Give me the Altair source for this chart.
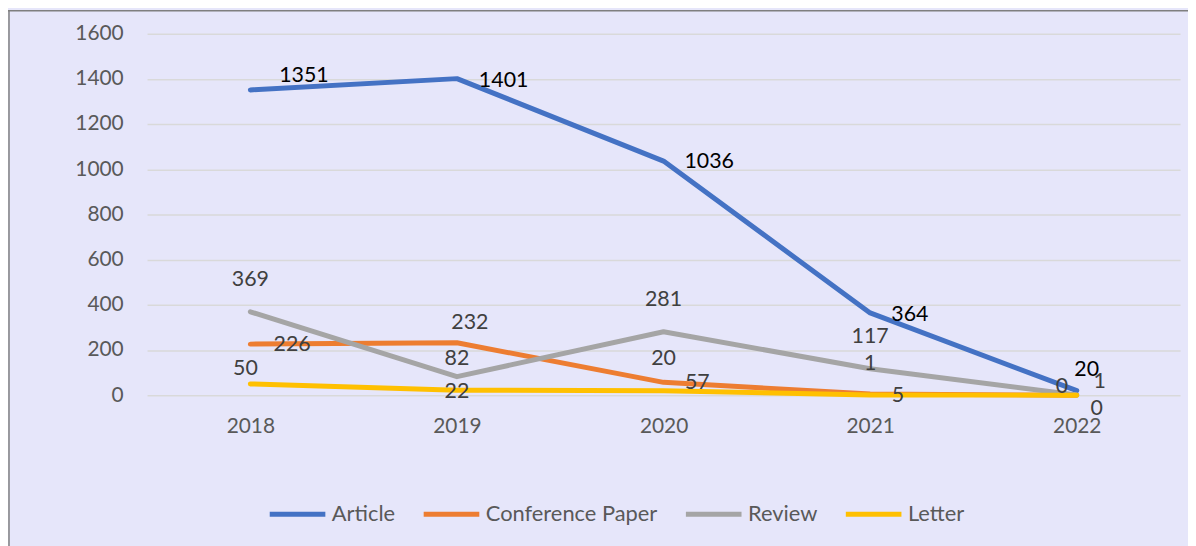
import altair as alt
import pandas as pd

years = ["2018", "2019", "2020", "2021", "2022"]
article = [1351, 1401, 1036, 364, 20]
conference = [226, 232, 57, 5, 0]
review = [369, 82, 281, 117, 1]
letter = [50, 22, 20, 1, 0]

series_names = ["Article", "Conference Paper", "Review", "Letter"]
series_values = [article, conference, review, letter]
colors = ["#4472C4", "#ED7D31", "#A5A5A5", "#FFC000"]

# label nudges (style, pixels) per series / year
label_nudge = {
    "Article": [(54, -14), (47, 2), (46, 1), (40, 2), (10, -21)],
    "Conference Paper": [(42, 1), (13, -20), (34, 1), (28, 2), (-15, -8)],
    "Review": [(0, -32), (0, -18), (0, -32), (0, -32), (23, -13)],
    "Letter": [(-5, -15), (0, 2), (0, -32), (0, -31), (20, 14)],
}
label_colors = {"Article": "#000000", "Conference Paper": "#404040",
                "Review": "#404040", "Letter": "#404040"}

rows = []
for name, vals in zip(series_names, series_values):
    for yr, v in zip(years, vals):
        rows.append({"Year": yr, "Series": name, "Value": v})
df = pd.DataFrame(rows)

FONT = "Lato"

x_enc = alt.X("Year:O", sort=years,
              scale=alt.Scale(padding=0.5),
              axis=alt.Axis(title=None, labelAngle=0, ticks=False, domain=False,
                            grid=False, labelPadding=21, labelFontSize=21,
                            labelColor="#595959", labelFont=FONT))
y_enc = alt.Y("Value:Q", scale=alt.Scale(domain=[0, 1600], nice=False),
              axis=alt.Axis(title=None, values=list(range(0, 1601, 200)),
                            format="d",
                            ticks=False, domain=False, grid=True,
                            gridColor="#D9D9D9", gridWidth=1.5,
                            labelPadding=24, labelFontSize=21,
                            labelColor="#595959", labelFont=FONT))
color_enc = alt.Color("Series:N",
                      scale=alt.Scale(domain=series_names, range=colors),
                      legend=alt.Legend(title=None, orient="none",
                                        legendX=121, legendY=453,
                                        direction="horizontal",
                                        symbolType="stroke", symbolSize=3136,
                                        symbolStrokeWidth=5,
                                        labelFontSize=22, labelFont=FONT,
                                        labelColor="#595959", labelOffset=4,
                                        columnPadding=18, labelLimit=400))

base = alt.Chart(df)

layers = []
for name in series_names:
    layers.append(
        base.transform_filter(alt.datum.Series == name)
        .mark_line(strokeWidth=5, strokeCap="round", strokeJoin="round")
        .encode(x=x_enc, y=y_enc, color=color_enc)
    )

for name in series_names:
    for j, yr in enumerate(years):
        dx, dy = label_nudge[name][j]
        layers.append(
            base.transform_filter((alt.datum.Series == name) & (alt.datum.Year == yr))
            .mark_text(dx=dx, dy=dy, fontSize=21.5, font=FONT,
                       color=label_colors[name], align="center", baseline="middle")
            .encode(x=x_enc, y=y_enc, text=alt.Text("Value:Q"))
        )

frame_df = pd.DataFrame({"k": [0]})
left_border = alt.Chart(frame_df).mark_rule(color="#7F7F7F", strokeWidth=1.5).encode(
    x=alt.value(-139), y=alt.value(-23), y2=alt.value(700))
top_border = alt.Chart(frame_df).mark_rule(color="#7F7F7F", strokeWidth=1.5).encode(
    x=alt.value(-140), x2=alt.value(1200), y=alt.value(-23))

chart = alt.layer(*layers, left_border, top_border).properties(
    width=1040, height=364,
    autosize=alt.AutoSizeParams(type="none"),
    padding={"left": 140, "top": 24, "right": 8, "bottom": 150},
    background="#E6E6FA",
).configure_view(stroke=None)

chart.save("out.html", embed_options={"renderer": "svg", "actions": False})
